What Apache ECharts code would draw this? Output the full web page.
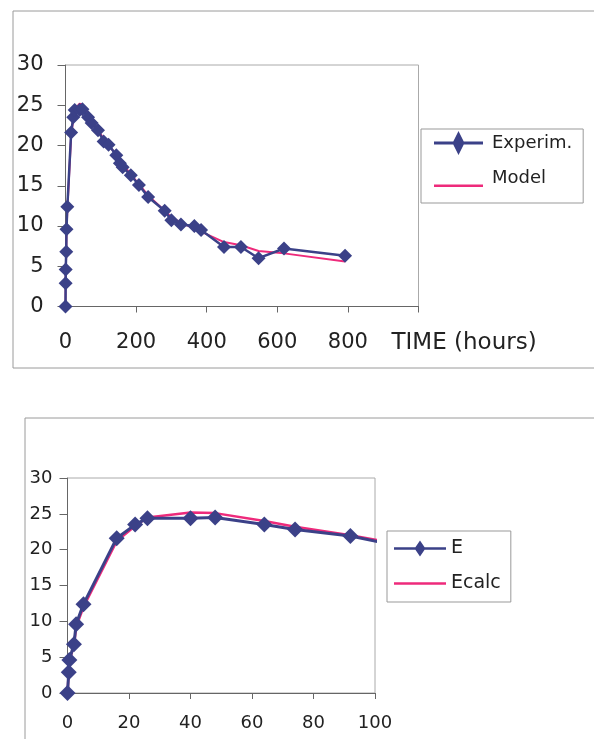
<!DOCTYPE html>
<html>
<head>
<meta charset="utf-8">
<script src="https://cdn.jsdelivr.net/npm/echarts@6/dist/echarts.min.js"></script>
<style>
  html, body { margin: 0; padding: 0; background: #fff; }
  #chart-container { width: 594px; height: 739px; }
</style>
</head>
<body>
<div id="chart-container"></div>
<script>
// time in hours
var expTime = [0, 0.4, 0.6, 2.1, 2.8, 5.2, 16, 22, 26, 40, 48, 64, 74, 92, 108, 122, 144, 154, 162, 185, 208, 234, 281, 300, 327, 365, 384, 449, 497, 547, 619, 792];
var expValues = [0, 2.9, 4.6, 6.8, 9.6, 12.4, 21.6, 23.5, 24.4, 24.4, 24.5, 23.5, 22.8, 21.9, 20.5, 20.1, 18.8, 17.8, 17.3, 16.3, 15.1, 13.6, 11.9, 10.7, 10.2, 10.0, 9.5, 7.4, 7.4, 6.0, 7.2, 6.3];
var modelValues = [0, 2.9, 4.5, 6.6, 9.2, 12.0, 21.2, 23.3, 24.5, 25.2, 25.1, 24.0, 23.2, 22.0, 20.8, 20.0, 18.9, 18.2, 17.7, 16.4, 15.2, 13.8, 11.9, 11.1, 10.4, 9.7, 9.3, 8.0, 7.6, 6.9, 6.6, 5.6];

var topTicks = [0, 200, 400, 600, 800];
var topNames = ['Experim.', 'Model'];
var bottomNames = ['E', 'Ecalc'];

var navy = '#3b4188';
var pink = '#ee2a7b';
var font = 'DejaVu Sans';
var axisColor = '#666';
var textColor = '#222';

function pairs(xs, ys) {
  return xs.map(function (x, i) { return [x, ys[i]]; });
}

var chartDom = document.getElementById('chart-container');
var myChart = echarts.init(chartDom);

var diamondTop = 'path://M0,10.5L19.25,10.5L24.5,0L29.75,10.5L49,10.5L49,13.5L29.75,13.5L24.5,24L19.25,13.5L0,13.5Z';
var lineTop = 'path://M0,0M0,18.5L49,18.5L49,21L0,21ZM49,24';
var diamondBottom = 'path://M0,6.7L21.4,6.7L26,0L30.6,6.7L52,6.7L52,9.3L30.6,9.3L26,16L21.4,9.3L0,9.3Z';
var lineBottom = 'path://M0,0M0,6.75L52,6.75L52,9.25L0,9.25ZM52,16';

function yAxis(idx, size, margin) {
  return {
    type: 'value', gridIndex: idx, min: 0, max: 30, interval: 5,
    axisLine: { show: true, lineStyle: { color: axisColor, width: 1 } },
    axisTick: { show: true, length: 8, lineStyle: { color: axisColor } },
    splitLine: { show: false },
    axisLabel: { fontFamily: font, fontSize: size, color: textColor, margin: margin }
  };
}

var option = {
  animation: false,
  backgroundColor: '#fff',
  graphic: [
    { type: 'rect', silent: true, z: -1, shape: { x: 13, y: 11, width: 620, height: 357 }, style: { fill: 'none', stroke: '#9a9a9a', lineWidth: 1 } },
    { type: 'rect', silent: true, z: -1, shape: { x: 25, y: 418, width: 620, height: 400 }, style: { fill: 'none', stroke: '#9a9a9a', lineWidth: 1 } }
  ],
  grid: [
    { left: 65.5, top: 65, width: 353, height: 241.5, show: true, borderColor: '#aaa', borderWidth: 1, outerBoundsMode: 'none' },
    { left: 67.5, top: 478, width: 307.5, height: 215, show: true, borderColor: '#aaa', borderWidth: 1, outerBoundsMode: 'none' }
  ],
  legend: [
    {
      data: [{ name: topNames[0], icon: diamondTop }, { name: topNames[1], icon: lineTop }],
      orient: 'vertical', left: 421, top: 129,
      padding: [2, 11, 13, 13], itemWidth: 49, itemHeight: 24, itemGap: 11,
      borderColor: '#999', borderWidth: 1,
      textStyle: { fontFamily: font, fontSize: 18, color: textColor, lineHeight: 24, padding: [0, 0, 0, 4] }
    },
    {
      data: [{ name: bottomNames[0], icon: diamondBottom }, { name: bottomNames[1], icon: lineBottom }],
      orient: 'vertical', left: 387, top: 531,
      padding: [8, 10, 9, 7], itemWidth: 52, itemHeight: 16, itemGap: 16,
      borderColor: '#999', borderWidth: 1,
      textStyle: { fontFamily: font, fontSize: 19, color: textColor, lineHeight: 16 }
    }
  ],
  xAxis: [
    {
      type: 'value', gridIndex: 0, min: 0, max: 1000, interval: 200,
      axisLine: { lineStyle: { color: axisColor, width: 1 } },
      axisTick: { show: true, length: 6, lineStyle: { color: axisColor } },
      splitLine: { show: false },
      axisLabel: {
        fontFamily: font, fontSize: 21, color: textColor, margin: 26,
        formatter: function (v) { return topTicks.indexOf(v) >= 0 ? String(v) : ''; }
      },
      name: 'TIME (hours)', nameLocation: 'end', nameGap: -27,
      nameTextStyle: { fontFamily: font, fontSize: 23, color: textColor, verticalAlign: 'top', lineHeight: 73 }
    },
    {
      type: 'value', gridIndex: 1, min: 0, max: 100, interval: 20,
      axisLine: { lineStyle: { color: axisColor, width: 1 } },
      axisTick: { show: true, length: 6, lineStyle: { color: axisColor } },
      splitLine: { show: false },
      axisLabel: { fontFamily: font, fontSize: 18, color: textColor, margin: 21 }
    }
  ],
  yAxis: [yAxis(0, 21, 22), yAxis(1, 18, 15)],
  series: [
    {
      name: topNames[1], type: 'line', xAxisIndex: 0, yAxisIndex: 0, z: 2,
      data: pairs(expTime, modelValues), symbol: 'none',
      lineStyle: { color: pink, width: 2 }, itemStyle: { color: pink }
    },
    {
      name: topNames[0], type: 'line', xAxisIndex: 0, yAxisIndex: 0, z: 3,
      data: pairs(expTime, expValues), symbol: 'diamond', symbolSize: 14, showAllSymbol: true,
      lineStyle: { color: navy, width: 2.5 }, itemStyle: { color: navy }
    },
    {
      name: bottomNames[1], type: 'line', xAxisIndex: 1, yAxisIndex: 1, z: 2,
      data: pairs(expTime, modelValues), symbol: 'none',
      lineStyle: { color: pink, width: 2.5 }, itemStyle: { color: pink }
    },
    {
      name: bottomNames[0], type: 'line', xAxisIndex: 1, yAxisIndex: 1, z: 3,
      data: pairs(expTime, expValues), symbol: 'diamond', symbolSize: 16, showAllSymbol: true,
      lineStyle: { color: navy, width: 3 }, itemStyle: { color: navy }
    }
  ]
};

option && myChart.setOption(option);
</script>
</body>
</html>
